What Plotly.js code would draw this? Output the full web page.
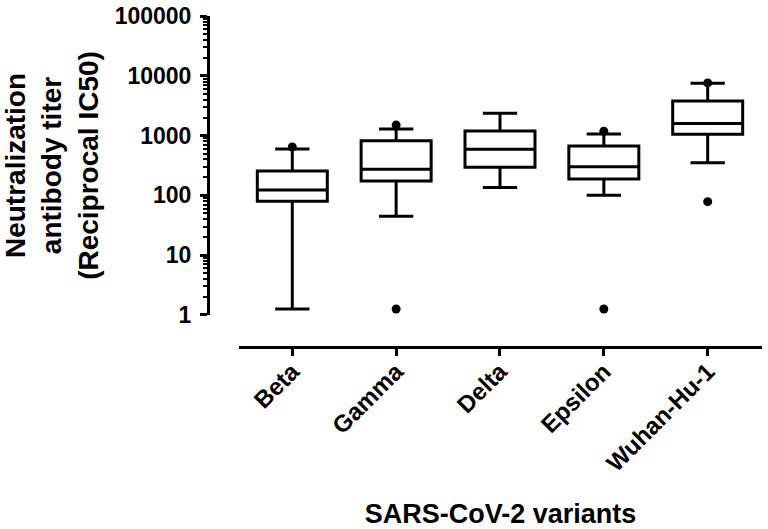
<!DOCTYPE html>
<html>
<head>
<meta charset="utf-8">
<script src="https://cdn.plot.ly/plotly-3.0.1.min.js"></script>
<style>
  html, body { margin: 0; padding: 0; background: #ffffff; }
  #chart { width: 768px; height: 529px; }
</style>
</head>
<body>
<div id="chart"></div>
<script>
// ---- data ----
var categories = ['Beta', 'Gamma', 'Delta', 'Epsilon', 'Wuhan-Hu-1'];
var q1Values = [80, 174, 295, 188, 1050];
var medianValues = [123, 273, 590, 302, 1600];
var q3Values = [256, 820, 1190, 670, 3790];
var lowerWhisker = [1.26, 45, 135, 101, 352];
var upperWhisker = [597, 1290, 2360, 1064, 7500];
var outlierCategory = ['Beta', 'Gamma', 'Gamma', 'Epsilon', 'Epsilon', 'Wuhan-Hu-1', 'Wuhan-Hu-1'];
var outlierValue = [645, 1500, 1.26, 1180, 1.26, 7600, 78.5];
var yTickValues = [1, 10, 100, 1000, 10000, 100000];
var yTickLabels = ['1', '10', '100', '1000', '10000', '100000'];

var FONT = 'Liberation Sans, Arial, Helvetica, sans-serif';

var boxTrace = {
  type: 'box',
  x: categories,
  q1: q1Values,
  median: medianValues,
  q3: q3Values,
  lowerfence: lowerWhisker,
  upperfence: upperWhisker,
  boxpoints: false,
  width: 0.674,
  whiskerwidth: 0.49,
  fillcolor: '#ffffff',
  line: { color: '#000000', width: 3 },
  hoverinfo: 'skip',
  showlegend: false
};

var outlierTrace = {
  type: 'scatter',
  mode: 'markers',
  x: outlierCategory,
  y: outlierValue,
  marker: { color: '#000000', size: 9 },
  hoverinfo: 'skip',
  showlegend: false
};

var layout = {
  width: 768,
  height: 529,
  margin: { l: 208, r: 6, t: 16, b: 182 },
  paper_bgcolor: '#ffffff',
  plot_bgcolor: '#ffffff',
  showlegend: false,
  font: { family: FONT, color: '#000000' },
  xaxis: {
    type: 'category',
    categoryorder: 'array',
    categoryarray: categories,
    domain: [0.056, 1],
    range: [-0.513, 4.523],
    anchor: 'free',
    position: 0,
    showline: true,
    linecolor: '#000000',
    linewidth: 3,
    showgrid: false,
    zeroline: false,
    ticks: 'outside',
    ticklen: 7,
    tickwidth: 3,
    tickcolor: '#000000',
    tickangle: -45,
    ticklabelstandoff: -8,
    tickfont: { family: FONT, size: 24, weight: 'bold', color: '#000000' },
    title: {
      text: 'SARS-CoV-2 variants',
      font: { family: FONT, size: 27, weight: 'bold', color: '#000000' },
      standoff: 30
    }
  },
  yaxis: {
    type: 'log',
    range: [0, 5],
    domain: [0.0967, 1],
    anchor: 'free',
    position: 0,
    showline: true,
    linecolor: '#000000',
    linewidth: 3,
    showgrid: false,
    zeroline: false,
    tickmode: 'array',
    tickvals: yTickValues,
    ticktext: yTickLabels,
    ticks: 'outside',
    ticklen: 7,
    tickwidth: 3,
    tickcolor: '#000000',
    ticklabelstandoff: 4,
    tickfont: { family: FONT, size: 23, weight: 'bold', color: '#000000' },
    minor: {
      dtick: 'D1',
      ticks: 'outside',
      ticklen: 4,
      tickwidth: 2,
      tickcolor: '#000000',
      showgrid: false
    },
    title: {
      text: 'Neutralization<br>antibody titer<br>(Reciprocal IC50)',
      font: { family: FONT, size: 28, weight: 'bold', color: '#000000' },
      standoff: 13
    }
  }
};

Plotly.newPlot('chart', [boxTrace, outlierTrace], layout, { displayModeBar: false, staticPlot: true });
</script>
</body>
</html>
